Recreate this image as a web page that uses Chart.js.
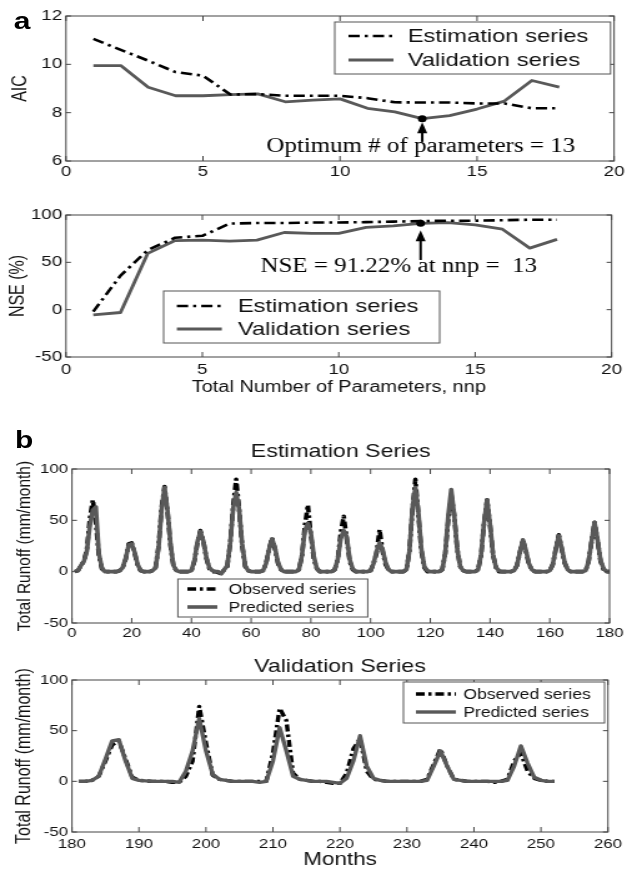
<!DOCTYPE html>
<html>
<head>
<meta charset="utf-8">
<script src="https://cdn.jsdelivr.net/npm/chart.js@4.4.0/dist/chart.umd.min.js"></script>
<style>
  html, body { margin: 0; padding: 0; background: #fff; }
  /* the source figure is stretched sideways, so draw narrow and widen */
  #fig { position: absolute; left: 0; top: 0; width: 502px; height: 871px; transform: scaleX(1.249); transform-origin: 0 0; }
  #fig canvas { position: absolute; left: 0; }
  .tag { position: absolute; font-family: "Liberation Sans", Arial, sans-serif; font-weight: bold; font-size: 24px; line-height: 1; color: #000; }
</style>
</head>
<body>
<div id="fig">
  <canvas id="aic" width="502" height="190" style="top:0"></canvas>
  <canvas id="nse" width="502" height="205" style="top:195px"></canvas>
  <canvas id="est" width="502" height="205" style="top:440px"></canvas>
  <canvas id="val" width="502" height="226" style="top:645px"></canvas>
  <div class="tag" style="left:11px;top:9px">a</div>
  <div class="tag" style="left:12px;top:428px">b</div>
</div>
<script>
// ---- panel a : model order selection ----
const nnp = [1, 2, 3, 4, 5, 6, 7, 8, 9, 10, 11, 12, 13, 14, 15, 16, 17, 18];
const aicEst = [11.05, 10.6, 10.15, 9.68, 9.53, 8.75, 8.77, 8.7, 8.7, 8.7, 8.6, 8.43, 8.42, 8.42, 8.38, 8.38, 8.18, 8.18];
const aicVal = [9.95, 9.95, 9.05, 8.7, 8.7, 8.75, 8.78, 8.45, 8.52, 8.57, 8.18, 8.03, 7.75, 7.88, 8.15, 8.48, 9.33, 9.06];
const nseEst = [-2, 36, 63, 76, 78, 91, 91.5, 91.5, 92, 92, 92.5, 93, 93.5, 94, 94, 94.5, 95, 95];
const nseVal = [-5.5, -3, 59.5, 73, 73.5, 72.5, 73.5, 81.5, 80.5, 80.5, 87, 88.5, 91.22, 92, 89.5, 85, 65, 74.3];
const optNnp = 13;

// ---- panel b : monthly runoff (mm/month) ----
const estMonths = Array.from({ length: 180 }, (_, i) => i + 1);
const estObserved = [
  0, 1, 6, 10, 22, 52, 70, 48, 16, 3, 0, 0,
  0, 0, 0, 1, 4, 12, 27, 28, 18, 6, 1, 0,
  0, 0, 1, 4, 25, 62, 83, 58, 25, 5, 1, 0,
  0, 0, 0, 1, 10, 28, 40, 30, 13, 3, 0, 0,
  -1, -2, 2, 5, 28, 65, 90, 60, 25, 5, 1, 0,
  0, 0, 0, 1, 8, 22, 33, 22, 8, 2, 0, 0,
  0, 0, 0, 2, 15, 45, 65, 35, 12, 3, 0, 0,
  0, 0, 0, 2, 12, 38, 54, 32, 10, 2, 0, 0,
  0, 0, 0, 1, 8, 18, 41, 20, 7, 2, 0, 0,
  0, 0, 0, 2, 20, 60, 90, 55, 20, 4, 0, 0,
  0, 0, 0, 2, 18, 50, 75, 55, 22, 5, 1, 0,
  0, 0, 0, 2, 16, 48, 70, 45, 16, 4, 0, 0,
  0, 0, 0, 1, 6, 19, 31, 20, 7, 2, 0, 0,
  0, 0, 0, 1, 7, 22, 36, 22, 8, 2, 0, 0,
  0, 0, 0, 1, 10, 30, 48, 30, 10, 2, 0, 0
];
const estPredicted = [
  0, 1, 6, 10, 20, 45, 60, 63, 18, 4, 0, 0,
  0, 0, 0, 1, 4, 13, 26, 27, 19, 7, 1, 0,
  0, 0, 1, 4, 23, 60, 82, 60, 27, 6, 1, 0,
  0, 0, 0, 1, 11, 29, 39, 30, 14, 4, 1, 0,
  0, -2, 2, 6, 28, 62, 77, 60, 27, 6, 1, 0,
  0, 0, 0, 1, 8, 22, 32, 23, 9, 2, 0, 0,
  0, 0, 0, 2, 16, 40, 47, 38, 15, 3, 0, 0,
  0, 0, 0, 2, 12, 32, 40, 34, 12, 3, 0, 0,
  0, 0, 0, 1, 8, 20, 28, 22, 9, 2, 0, 0,
  0, 0, 0, 2, 20, 62, 82, 58, 22, 5, 1, 0,
  0, 0, 0, 2, 18, 55, 80, 55, 22, 5, 1, 0,
  0, 0, 0, 2, 17, 48, 70, 46, 17, 4, 1, 0,
  0, 0, 0, 1, 6, 19, 31, 21, 8, 2, 0, 0,
  0, 0, 0, 1, 7, 22, 35, 23, 9, 2, 0, 0,
  0, 0, 0, 1, 10, 30, 48, 31, 11, 3, 0, 0
];
const valMonths = Array.from({ length: 72 }, (_, i) => i + 181);
const valObserved = [
  0, 0, 1, 5, 20, 36, 40, 22, 4, 1, 0.5, 0,
  0, 0, -1, -1, 5, 20, 74, 38, 6, 2, 1, 0,
  0, 0, 0, 0, 0, 28, 72, 60, 8, 2, 1, 0,
  0, -1, -2, -2, 8, 32, 42, 10, 2, 1, 0, 0,
  0, 0, 0, 0, 2, 17, 32, 15, 2, 1, 0, 0,
  0, 0, -1, 0, 2, 20, 28, 10, 3, 1, 0, 0
];
const valPredicted = [
  0, 0, 1, 5, 22, 40, 41, 20, 3, 1, 0.5, 0,
  0, 0, 0, -1, 10, 30, 62, 30, 7, 2, 1, 0,
  0, 0, 0, -1, 0, 20, 53, 30, 5, 2, 1, 0,
  0, 0, -1, -2, 3, 20, 45, 15, 3, 1, 0, 0,
  0, 0, 0, 0, 1, 15, 30, 15, 2, 1, 0, 0,
  0, 0, 0, 0, 1, 15, 35, 18, 4, 1, 0, 0
];

const SANS = '"Liberation Sans", Arial, Helvetica, sans-serif';
const SERIF = '"Liberation Serif", "Times New Roman", serif';
const INK = '#111';
const GREY = '#595959';
const DASHDOT = [9, 4, 2.5, 4];

Chart.defaults.font.family = SANS;
Chart.defaults.color = INK;

const pts = (xs, ys) => xs.map((x, i) => ({ x: x, y: ys[i] }));

// box round the axes with inward ticks on all four sides
const framePlugin = {
  id: 'frame',
  afterDatasetsDraw(chart) {
    const { ctx, chartArea: a, scales: { x, y } } = chart;
    ctx.save();
    ctx.strokeStyle = '#444';
    ctx.lineWidth = 1;
    ctx.strokeRect(a.left, a.top, a.right - a.left, a.bottom - a.top);
    ctx.beginPath();
    x.ticks.forEach(t => {
      const px = x.getPixelForValue(t.value);
      ctx.moveTo(px, a.bottom); ctx.lineTo(px, a.bottom - 5);
      ctx.moveTo(px, a.top); ctx.lineTo(px, a.top + 5);
    });
    y.ticks.forEach(t => {
      const py = y.getPixelForValue(t.value);
      ctx.moveTo(a.left, py); ctx.lineTo(a.left + 4, py);
      ctx.moveTo(a.right, py); ctx.lineTo(a.right - 4, py);
    });
    ctx.stroke();
    ctx.restore();
  }
};

// legend box, title and arrow note
const extrasPlugin = {
  id: 'extras',
  afterDraw(chart, args, o) {
    const { ctx, chartArea: a, scales: { x, y } } = chart;
    ctx.save();
    if (o.title) {
      ctx.font = o.title.size + 'px ' + SANS;
      ctx.fillStyle = INK;
      ctx.textAlign = 'center';
      ctx.textBaseline = 'middle';
      ctx.fillText(o.title.text, (a.left + a.right) / 2, o.title.y);
    }
    if (o.note) {
      const n = o.note;
      const px = x.getPixelForValue(n.at);
      const yBase = y.getPixelForValue(n.from);
      const yTip = y.getPixelForValue(n.to);
      ctx.strokeStyle = '#000';
      ctx.fillStyle = '#000';
      ctx.lineWidth = 2;
      ctx.beginPath();
      ctx.moveTo(px, yBase); ctx.lineTo(px, yTip + 8);
      ctx.stroke();
      ctx.beginPath();
      ctx.moveTo(px, yTip); ctx.lineTo(px - 4, yTip + 11); ctx.lineTo(px + 4, yTip + 11);
      ctx.closePath();
      ctx.fill();
      ctx.font = '20px ' + SERIF;
      ctx.textAlign = 'left';
      ctx.textBaseline = 'middle';
      ctx.fillText(n.text, x.getPixelForValue(n.tx), y.getPixelForValue(n.ty));
    }
    if (o.legend) {
      const L = o.legend;
      const [x1, y1, x2, y2] = L.box;
      ctx.fillStyle = '#fff';
      ctx.fillRect(x1, y1, x2 - x1, y2 - y1);
      ctx.strokeStyle = '#555';
      ctx.lineWidth = 1;
      ctx.strokeRect(x1, y1, x2 - x1, y2 - y1);
      L.items.forEach((idx, r) => {
        const ds = chart.data.datasets[idx];
        const ry = L.rows[r];
        ctx.save();
        ctx.strokeStyle = ds.borderColor;
        ctx.lineWidth = ds.borderWidth;
        ctx.setLineDash(ds.borderDash || []);
        ctx.beginPath();
        ctx.moveTo(L.sample[0], ry); ctx.lineTo(L.sample[1], ry);
        ctx.stroke();
        ctx.restore();
        ctx.fillStyle = INK;
        ctx.font = L.size + 'px ' + SANS;
        ctx.textAlign = 'left';
        ctx.textBaseline = 'middle';
        ctx.fillText(ds.label, L.textX, ry + 1);
      });
    }
    ctx.restore();
  }
};

function scales(o) {
  return {
    x: {
      type: 'linear', min: o.xMin, max: o.xMax,
      afterFit: s => { s.height = o.xH; },
      grid: { display: false, drawTicks: false }, border: { display: false },
      ticks: { stepSize: o.xStep, autoSkip: false, maxRotation: 0, padding: o.xPad, font: { size: o.tick }, color: INK },
      title: o.xTitle
        ? { display: true, text: o.xTitle, font: { size: o.xTitleSize }, color: INK, padding: { top: 0, bottom: o.xTitlePad } }
        : { display: false }
    },
    y: {
      type: 'linear', min: o.yMin, max: o.yMax,
      afterFit: s => { s.width = o.yW; },
      grid: { display: false, drawTicks: false }, border: { display: false },
      ticks: { stepSize: o.yStep, padding: 3, font: { size: o.tick }, color: INK },
      title: { display: true, text: o.yTitle, font: { size: o.yTitleSize }, color: INK, padding: { top: o.yTitlePad, bottom: 0 } }
    }
  };
}

function baseOptions(pad, sc, extras) {
  return {
    responsive: false, animation: false, devicePixelRatio: 1,
    layout: { padding: pad },
    scales: sc,
    plugins: { legend: { display: false }, tooltip: { enabled: false }, extras: extras }
  };
}

const lineDs = (label, data, color, width, dash) => ({
  label: label, data: data, borderColor: color, borderWidth: width, borderDash: dash,
  borderJoinStyle: 'round', pointRadius: 0, tension: 0, fill: false
});
const dotDs = (data) => ({
  label: 'optimum', data: data, showLine: false, pointRadius: 3.5,
  pointBackgroundColor: '#000', pointBorderColor: '#000', borderColor: '#000', borderWidth: 0
});

// AIC
new Chart(document.getElementById('aic'), {
  type: 'line',
  data: { datasets: [
    dotDs([{ x: optNnp, y: aicVal[optNnp - 1] }]),
    lineDs('Estimation series', pts(nnp, aicEst), '#000', 2.6, DASHDOT),
    lineDs('Validation series', pts(nnp, aicVal), GREY, 2.8, [])
  ] },
  options: baseOptions({ top: 16, right: 9.2, left: 0, bottom: 0 },
    scales({ xMin: 0, xMax: 20, xStep: 5, yMin: 6, yMax: 12, yStep: 2, xH: 29, yW: 52.8, xPad: 2, tick: 15,
             yTitle: 'AIC', yTitleSize: 16, yTitlePad: 7 }),
    { legend: { box: [268, 22, 488.8, 74], rows: [36, 60], sample: [279, 315], textX: 326.4, size: 19, items: [1, 2] },
      note: { at: optNnp, from: 6.79, to: 7.6, text: 'Optimum # of parameters = 13', tx: 7.31, ty: 6.58 } }),
  plugins: [framePlugin, extrasPlugin]
});

// NSE
new Chart(document.getElementById('nse'), {
  type: 'line',
  data: { datasets: [
    dotDs([{ x: optNnp, y: nseVal[optNnp - 1] }]),
    lineDs('Estimation series', pts(nnp, nseEst), '#000', 2.6, DASHDOT),
    lineDs('Validation series', pts(nnp, nseVal), GREY, 2.8, [])
  ] },
  options: baseOptions({ top: 20, right: 9.2, left: 0, bottom: 0 },
    scales({ xMin: 0, xMax: 20, xStep: 5, yMin: -50, yMax: 100, yStep: 50, xH: 43, yW: 52.8, xPad: 4, tick: 15,
             xTitle: 'Total Number of Parameters, nnp', xTitleSize: 16, xTitlePad: 2.4,
             yTitle: 'NSE (%)', yTitleSize: 16, yTitlePad: 5 }),
    { legend: { box: [131, 96, 352, 148], rows: [111, 134], sample: [141.6, 177.6], textX: 190.4, size: 19, items: [1, 2] },
      note: { at: optNnp, from: 52.5, to: 84, text: 'NSE = 91.22% at nnp =  13', tx: 7.13, ty: 45 } }),
  plugins: [framePlugin, extrasPlugin]
});

// Estimation runoff
new Chart(document.getElementById('est'), {
  type: 'line',
  data: { datasets: [
    lineDs('Predicted series', pts(estMonths, estPredicted), GREY, 3.6, []),
    lineDs('Observed series', pts(estMonths, estObserved), '#000', 3.6, [7, 3, 2.5, 3])
  ] },
  options: baseOptions({ top: 29, right: 14, left: 0, bottom: 0 },
    scales({ xMin: 0, xMax: 180, xStep: 20, yMin: -50, yMax: 100, yStep: 50, xH: 22, yW: 57.6, xPad: 2, tick: 13.5,
             yTitle: 'Total Runoff (mm/month)', yTitleSize: 15.5, yTitlePad: 10.5 }),
    { title: { text: 'Estimation Series', y: 12, size: 18.5 },
      legend: { box: [142.4, 139, 294.4, 177], rows: [149, 167], sample: [150, 174], textX: 183, size: 14, items: [1, 0] } }),
  plugins: [framePlugin, extrasPlugin]
});

// Validation runoff
new Chart(document.getElementById('val'), {
  type: 'line',
  data: { datasets: [
    lineDs('Predicted series', pts(valMonths, valPredicted), GREY, 3.4, []),
    lineDs('Observed series', pts(valMonths, valObserved), '#000', 3.4, [7, 3, 2.5, 3])
  ] },
  options: baseOptions({ top: 35, right: 14, left: 0, bottom: 0 },
    scales({ xMin: 180, xMax: 260, xStep: 10, yMin: -50, yMax: 100, yStep: 50, xH: 39, yW: 57.6, xPad: 4, tick: 13.5,
             xTitle: 'Months', xTitleSize: 18, xTitlePad: 0,
             yTitle: 'Total Runoff (mm/month)', yTitleSize: 16, yTitlePad: 10 }),
    { title: { text: 'Validation Series', y: 22, size: 18.5 },
      legend: { box: [323, 37, 484, 78], rows: [49, 67], sample: [333, 365], textX: 371, size: 14, items: [1, 0] } }),
  plugins: [framePlugin, extrasPlugin]
});
</script>
</body>
</html>
